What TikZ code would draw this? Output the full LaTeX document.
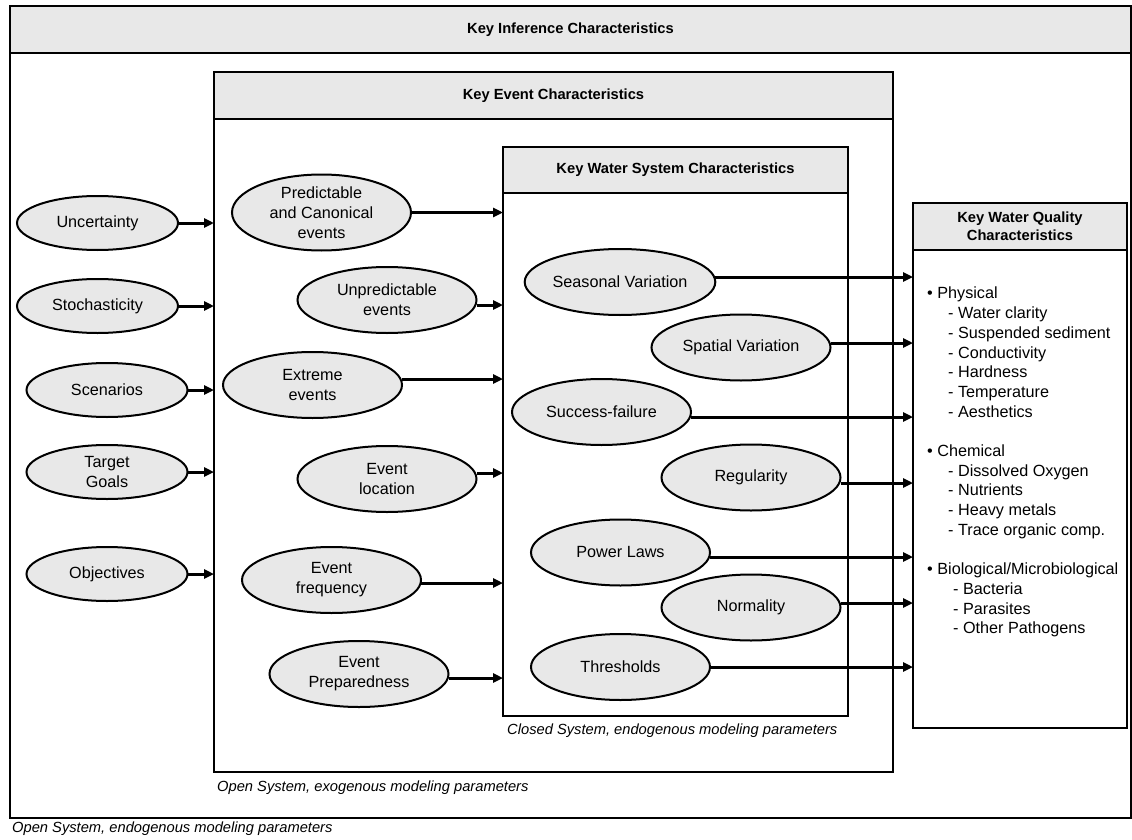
\documentclass[tikz,border=0pt]{standalone}
\usepackage{fontspec}
\setmainfont{Liberation Sans}
\usetikzlibrary{shapes.geometric,arrows.meta}
\definecolor{hdrgray}{HTML}{E8E8E8}
\newcommand{\myhdrfont}{\fontsize{14.7}{18}\selectfont\bfseries}
\newcommand{\myovfont}{\fontsize{16.2}{20}\selectfont}
\newcommand{\mylblfont}{\fontsize{14.7}{17}\selectfont\itshape}
\newcommand{\mysubA}{\hspace*{21pt}- }
\newcommand{\mysubB}{\hspace*{26pt}- }
\begin{document}
\begin{tikzpicture}[x=1pt,y=-1pt,
  box/.style={draw, line width=2.6pt, fill=white, inner sep=0pt, outer sep=0pt},
  hdr/.style={draw, line width=2.6pt, fill=hdrgray, inner sep=0pt, outer sep=0pt, align=center, font=\myhdrfont},
  oval/.style={ellipse, draw, line width=2pt, fill=hdrgray, inner sep=0pt, outer sep=0pt, align=center, font=\myovfont, minimum width=179pt, minimum height=66pt},
  loval/.style={oval, minimum width=161pt, minimum height=54pt},
  arr/.style={line width=3pt, -{Triangle[length=10pt,width=9pt]}},
  lbl/.style={inner sep=0pt, font=\mylblfont}]
\useasboundingbox (0,0) rectangle (1132,840);
% boxes
\node[box, minimum width=1121pt, minimum height=812pt] (outer) at (570.5,412) {};
\node[hdr, minimum width=1121pt, minimum height=47pt] (outerh) at (570.5,29.5) {Key Inference Characteristics};
\node[box, minimum width=679pt, minimum height=700pt] (evbox) at (553.5,422) {};
\node[hdr, minimum width=679pt, minimum height=47pt] (evh) at (553.5,95.5) {Key Event Characteristics};
\node[box, minimum width=345pt, minimum height=569pt] (wsbox) at (675.5,431.5) {};
\node[hdr, minimum width=345pt, minimum height=46pt] (wsh) at (675.5,170) {Key Water System Characteristics};
\node[box, minimum width=214pt, minimum height=525pt] (wqbox) at (1020,465.5) {};
\node[hdr, minimum width=214pt, minimum height=47pt] (wqh) at (1020,226.5) {Key Water Quality\\Characteristics};
% left ellipses
\node[loval] (unc) at (97.5,223) {Uncertainty};
\node[loval] (sto) at (97.5,306) {Stochasticity};
\node[loval] (scn) at (107,390) {Scenarios};
\node[loval] (tg) at (107,472) {Target\\Goals};
\node[loval] (obj) at (107,574) {Objectives};
% event ellipses
\node[oval, minimum height=76pt] (pce) at (321.5,212.5) {Predictable\\and Canonical\\events};
\node[oval] (une) at (387,300) {Unpredictable\\events};
\node[oval] (exe) at (312.5,385) {Extreme\\events};
\node[oval] (elo) at (387,479) {Event\\location};
\node[oval] (efr) at (331.5,580) {Event\\frequency};
\node[oval] (epr) at (359,674) {Event\\Preparedness};
% water system ellipses
\node[oval] (sv) at (620,282) {Seasonal Variation};
\node[oval] (spv) at (741,347.5) {Spatial Variation};
\node[oval] (sf) at (601.5,412) {Success-failure};
\node[oval] (reg) at (751,477.5) {Regularity};
\node[oval] (pl) at (620.5,552.5) {Power Laws};
\node[oval] (nor) at (751,607.5) {Normality};
\node[oval] (thr) at (620.5,667) {Thresholds};
% arrows: inference -> event box
\draw[arr] (unc.east) -- (unc.east -| evbox.west);
\draw[arr] (sto.east) -- (sto.east -| evbox.west);
\draw[arr] (scn.east) -- (scn.east -| evbox.west);
\draw[arr] (tg.east) -- (tg.east -| evbox.west);
\draw[arr] (obj.east) -- (obj.east -| evbox.west);
% arrows: events -> water system box
\draw[arr] (pce.east) -- (pce.east -| wsbox.west);
\draw[arr] ([yshift=-5pt]une.east) -- ([yshift=-5pt]une.east -| wsbox.west);
\draw[arr] ([yshift=6pt]exe.east) -- ([yshift=6pt]exe.east -| wsbox.west);
\draw[arr] ([yshift=6pt]elo.east) -- ([yshift=6pt]elo.east -| wsbox.west);
\draw[arr] ([yshift=-3pt]efr.east) -- ([yshift=-3pt]efr.east -| wsbox.west);
\draw[arr] ([yshift=-4pt]epr.east) -- ([yshift=-4pt]epr.east -| wsbox.west);
% arrows: water system -> water quality box
\draw[arr] ([yshift=5pt]sv.east) -- ([yshift=5pt]sv.east -| wqbox.west);
\draw[arr] ([yshift=4.5pt]spv.east) -- ([yshift=4.5pt]spv.east -| wqbox.west);
\draw[arr] ([yshift=-5pt]sf.east) -- ([yshift=-5pt]sf.east -| wqbox.west);
\draw[arr] ([yshift=-5.5pt]reg.east) -- ([yshift=-5.5pt]reg.east -| wqbox.west);
\draw[arr] ([yshift=-4.5pt]pl.east) -- ([yshift=-4.5pt]pl.east -| wqbox.west);
\draw[arr] ([yshift=4.5pt]nor.east) -- ([yshift=4.5pt]nor.east -| wqbox.west);
\draw[arr] (thr.east) -- (thr.east -| wqbox.west);
% water quality list
\node[anchor=north west, align=left, inner sep=0pt, font=\fontsize{16.2}{19.7}\selectfont] (wqlist) at (927,287)
{• Physical\\
\mysubA Water clarity\\
\mysubA Suspended sediment\\
\mysubA Conductivity\\
\mysubA Hardness\\
\mysubA Temperature\\
\mysubA Aesthetics\\[19.7pt]
• Chemical\\
\mysubA Dissolved Oxygen\\
\mysubA Nutrients\\
\mysubA Heavy metals\\
\mysubA Trace organic comp.\\[19.7pt]
• Biological/Microbiological\\
\mysubB Bacteria\\
\mysubB Parasites\\
\mysubB Other Pathogens};
% labels
\node[lbl, anchor=west] (cl) at (507,731) {Closed System, endogenous modeling parameters};
\node[lbl, anchor=west] (oxl) at (217,788) {Open System, exogenous modeling parameters};
\node[lbl, anchor=west] (onl) at (12,829) {Open System, endogenous modeling parameters};
\end{tikzpicture}
\end{document}
